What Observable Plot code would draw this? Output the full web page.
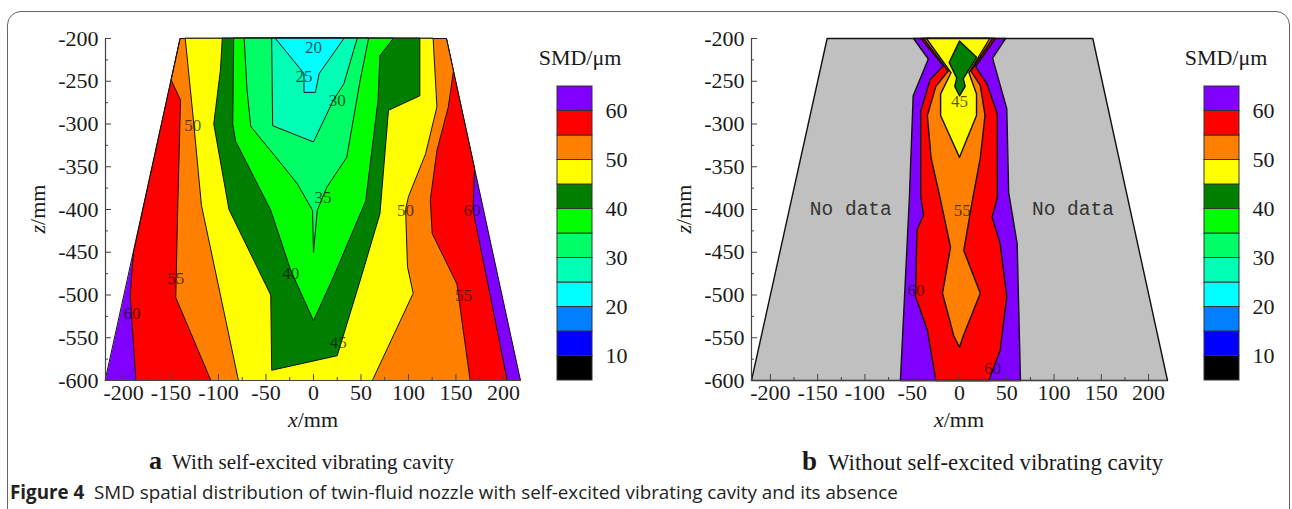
<!DOCTYPE html>
<html><head><meta charset="utf-8">
<script src="https://cdn.jsdelivr.net/npm/d3@7"></script>
<script src="https://cdn.jsdelivr.net/npm/@observablehq/plot@0.6"></script>
<style>
body{margin:0;background:#fff;}
#fig{position:relative;width:1292px;height:509px;overflow:hidden;font-family:"Liberation Serif",serif;color:#1a1a1a;background:#fff}
#fig svg text{font-family:"Liberation Serif",serif;}
.abs{position:absolute;white-space:nowrap;line-height:1}
#frame{position:absolute;left:7px;top:11px;width:1283px;height:540px;border:1.5px solid #666;border-radius:14px;box-sizing:border-box}
</style></head><body>
<div id="fig">
  <div id="frame"></div>
</div>
<script>
// ---------- data ----------
const zDomain = [-600, -200];
const aXDomain = [-219, 218];
const bXDomain = [-220, 220];
const xTicks = [-200, -150, -100, -50, 0, 50, 100, 150, 200];
const xMinor = [-175, -125, -75, -25, 25, 75, 125, 175];
const zTicks = [-600, -550, -500, -450, -400, -350, -300, -250, -200];
const zMinor = [-575, -525, -475, -425, -375, -325, -275, -225];

// colour bar (SMD / µm)
const barLow  = [5, 10, 15, 20, 25, 30, 35, 40, 45, 50, 55, 60];
const barHigh = [10, 15, 20, 25, 30, 35, 40, 45, 50, 55, 60, 65];
const barTicks = [10, 20, 30, 40, 50, 60];

// trapezoid domain: [x top-left, x top-right, x bottom-left, x bottom-right]
const aShape = [-140, 140, -219, 218];
const bShape = [-140, 141, -220, 220];

// Panel a: regions below each contour level (x, z), "L"/"R" = point on slanted edge at z
const aAll     = [[-140,-200],[140,-200],[218,-600],[-219,-600]];
const aBelow60 = [[-140,-200],[140,-200],["R",-352],[168,-401],[186,-500],[204,-600],[-187,-600],[-193,-500],["L",-451]];
const aBelow55 = [["L",-249],[-140,-272],[-143,-400],[-145,-503],[-108,-600],[165,-600],[151,-487],[125,-428],[123,-389],[130,-331],[142,-280],["R",-238],[140,-200],[-140,-200]];
const aBelow50 = [[-135,-200],[-126,-300],[-118,-395],[-98,-500],[-79,-600],[62,-600],[105,-498],[99,-467],[97,-400],[100,-385],[118,-335],[130,-280],[126,-200]];
const aBelow45 = [[-96,-200],[-98,-237],[-105,-300],[-89,-400],[-45,-500],[-44,-588],[25,-571],[50,-480],[70,-405],[79,-284],[112,-267],[112,-200]];
const aBelow40 = [[-84,-200],[-85,-300],[-82,-320],[-45,-401],[-24,-471],[0,-530],[21,-479],[55,-390],[68,-272],[70,-220],[84,-200]];
const aBelow35 = [[-73,-200],[-70,-260],[-66,-303],[-35,-345],[-17,-370],[-1,-401],[0,-450],[4,-401],[14,-374],[35,-339],[49,-250],[58,-200]];
const aBelow30 = [[-44,-200],[-43,-302],[0,-321],[21,-272],[32,-253],[46,-200]];
const aBelow25 = [[-40,-200],[-10,-241],[-10,-263],[2,-263],[6,-241],[32,-200]];
const aLabels = [
  {t:"20",x:0,z:-210},{t:"25",x:-10,z:-245},{t:"30",x:25,z:-272},{t:"35",x:10,z:-386},
  {t:"40",x:-24,z:-475},{t:"45",x:26,z:-556},{t:"50",x:-127,z:-302},{t:"50",x:97,z:-401},
  {t:"55",x:-145,z:-481},{t:"55",x:158,z:-501},{t:"60",x:-191,z:-522},{t:"60",x:167,z:-401}
];

// Panel b
const bAll     = [[-140,-200],[141,-200],[220,-600],[-220,-600]];
const bData    = [[-48.6,-200],[-33,-224],[-49,-267],[-53,-386],[-62.5,-600],[64.5,-600],[61,-440],[52,-380],[50,-282],[35,-223],[48.7,-200]];
const bBelow60 = [[-41,-200],[-17,-232],[-31,-248],[-41,-285],[-41,-385],[-38,-406],[-45,-424],[-46.5,-502],[-34,-541],[-25,-600],[31,-600],[43,-565],[50,-502],[43,-440],[34.5,-409],[40,-386],[40,-288],[29,-253],[17,-233],[38,-200]];
const bBelow55 = [[-38,-200],[-12,-238],[-25,-256],[-34,-290],[-30,-340],[-20,-389],[-9.5,-444],[-18,-498],[-6,-548],[0,-561],[4,-548],[22,-498],[4.5,-448],[13.7,-389],[22,-340],[27,-290],[22,-255],[12,-238],[35,-200]];
const bBelow50 = [[-35,-200],[-9,-240],[-20,-265],[-20,-290],[0,-339],[18,-290],[18,-265],[10,-240],[32,-200]];
const bBelow45 = [[0,-203],[18,-222],[4,-247],[6,-256],[0,-267],[-5,-256],[-3,-246],[-11,-228]];
const bLabels = [{t:"45",x:0,z:-274},{t:"55",x:3,z:-401},{t:"60",x:-46,z:-495},{t:"60",x:35,z:-586}];
const noData  = [{t:"No data",x:-115,z:-399},{t:"No data",x:120,z:-399}];

// ---------- styles ----------
const SERIF = "Liberation Serif";
const col = {purple:"#8000ff", red:"#ff0000", orange:"#ff8000", yellow:"#ffff00", dkgreen:"#007f00",
  green:"#00ff00", spring:"#00ff66", aqua:"#00ffb4", cyan:"#00ffff", azure:"#0080ff", blue:"#0000ff", black:"#000000", gray:"#c0c0c0"};
const barColors = [col.black, col.blue, col.azure, col.cyan, col.aqua, col.spring, col.green, col.dkgreen, col.yellow, col.orange, col.red, col.purple];

function resolve(shape, pts) {
  return pts.map(p => {
    if (typeof p[0] !== "string") return p;
    const t = (-200 - p[1]) / 400;
    const x = p[0] === "L" ? shape[0] + (shape[2] - shape[0]) * t : shape[1] + (shape[3] - shape[1]) * t;
    return [x, p[1]];
  });
}

const svgStyle = {background: "transparent", fontFamily: SERIF, fontSize: "22px", color: "#1a1a1a", overflow: "visible"};

function panel(shape, xDomain, frameW, regions, labels, extra, sw) {
  const poly = (pts, fill) => Plot.line(resolve(shape, pts), {x: d => d[0], y: d => d[1], curve: "linear-closed", fill, stroke: "#111", strokeWidth: sw});
  return Plot.plot({
    width: 640, height: 440, marginLeft: 105, marginRight: 640 - 105 - frameW,
    marginTop: 38, marginBottom: 60,
    x: {domain: xDomain}, y: {domain: zDomain},
    style: svgStyle,
    marks: [
      ...regions.map(([pts, fill]) => poly(pts, fill)),
      ...extra,
      Plot.text(labels, {x: "x", y: "z", text: "t", fontSize: 17, fontFamily: SERIF, fill: "#111", fillOpacity: 0.72}),
      Plot.ruleX([xDomain[0]], {stroke: "#444", strokeWidth: 1.2}),
      Plot.ruleY([zDomain[0]], {stroke: "#444", strokeWidth: 1.2}),
      Plot.axisX(xTicks, {tickSize: 6, dy: -6, fill: "none", stroke: "#444"}),
      Plot.axisX(xMinor, {tickSize: 3, dy: -3, fill: "none", stroke: "#444"}),
      Plot.axisX(xTicks, {tickSize: 0, tickPadding: 4, fontSize: 22, fontFamily: SERIF, fontVariant: "normal", fill: "#1a1a1a", label: null, tickFormat: d => String(d)}),
      Plot.axisY(zTicks, {tickSize: 6, dx: 6, fill: "none", stroke: "#444"}),
      Plot.axisY(zMinor, {tickSize: 3, dx: 3, fill: "none", stroke: "#444"}),
      Plot.axisY(zTicks, {tickSize: 0, tickPadding: 7, fontSize: 22, fontFamily: SERIF, fontVariant: "normal", fill: "#1a1a1a", label: null, tickFormat: d => String(d)})
    ]
  });
}

function colorbar() {
  const bands = barLow.map((lo, i) => ({lo, hi: barHigh[i], c: barColors[i]}));
  return Plot.plot({
    width: 95, height: 314, marginLeft: 0, marginRight: 60, marginTop: 10, marginBottom: 10,
    y: {domain: [5, 65]}, color: {type: "identity"},
    style: svgStyle,
    marks: [
      Plot.barY(bands, {y1: "lo", y2: "hi", fill: "c", stroke: "#333", strokeWidth: 1}),
      Plot.axisY(barTicks, {anchor: "right", tickSize: 0, tickPadding: 13, fontSize: 22, fontFamily: SERIF, fontVariant: "normal", fill: "#1a1a1a", label: null})
    ]
  });
}

const fig = document.getElementById("fig");
function place(el, left, top) { el.style.position = "absolute"; el.style.left = left + "px"; el.style.top = top + "px"; fig.appendChild(el); }
function html(s, left, top, css) { const d = document.createElement("div"); d.className = "abs"; d.innerHTML = s; d.style.cssText += css || ""; place(d, left, top); return d; }

const pa = panel(aShape, aXDomain, 415, [
  [aAll, col.purple], [aBelow60, col.red], [aBelow55, col.orange], [aBelow50, col.yellow], [aBelow45, col.dkgreen],
  [aBelow40, col.green], [aBelow35, col.spring], [aBelow30, col.aqua], [aBelow25, col.cyan]
], aLabels, [], 1);
place(pa, 0, 0);

const noDataMark = Plot.text(noData, {x: "x", y: "z", text: "t", fontSize: 19.5, fontFamily: "Liberation Mono", fill: "#333"});
const pb = panel(bShape, bXDomain, 416, [
  [bAll, col.gray], [bData, col.purple], [bBelow60, col.red], [bBelow55, col.orange], [bBelow50, col.yellow], [bBelow45, col.dkgreen]
], bLabels, [noDataMark], 1.4);
place(pb, 646, 0);
pb.querySelectorAll("text").forEach(t => { if (t.textContent === "No data") t.style.fontFamily = "'Liberation Mono', monospace"; });

place(colorbar(), 557, 76);
place(colorbar(), 1204, 76);

// titles and captions
const serif = "font-family:'Liberation Serif',serif;";
html("SMD/μm", 580, 58, serif + "font-size:22px;transform:translate(-50%,-50%)");
html("SMD/μm", 1226, 58, serif + "font-size:22px;transform:translate(-50%,-50%)");
html("<i>z</i>/mm", 38, 209, serif + "font-size:22px;transform:translate(-50%,-50%) rotate(-90deg)");
html("<i>z</i>/mm", 684, 209, serif + "font-size:22px;transform:translate(-50%,-50%) rotate(-90deg)");
html("<i>x</i>/mm", 313, 420, serif + "font-size:22px;transform:translate(-50%,-50%)");
html("<i>x</i>/mm", 959, 420, serif + "font-size:22px;transform:translate(-50%,-50%)");
html("<b style='font-size:26px'>a</b>&nbsp; With self-excited vibrating cavity", 149, 461, serif + "font-size:21px;transform:translateY(-50%)");
html("<b style='font-size:27px'>b</b>&nbsp; Without self-excited vibrating cavity", 802, 461, serif + "font-size:22.8px;transform:translateY(-50%)");
html("<b>Figure 4</b>&nbsp; SMD spatial distribution of twin-fluid nozzle with self-excited vibrating cavity and its absence", 10, 492, "font-family:'Open Sans',sans-serif;font-size:18.8px;color:#222;transform:translateY(-50%)");
</script>
</body></html>
